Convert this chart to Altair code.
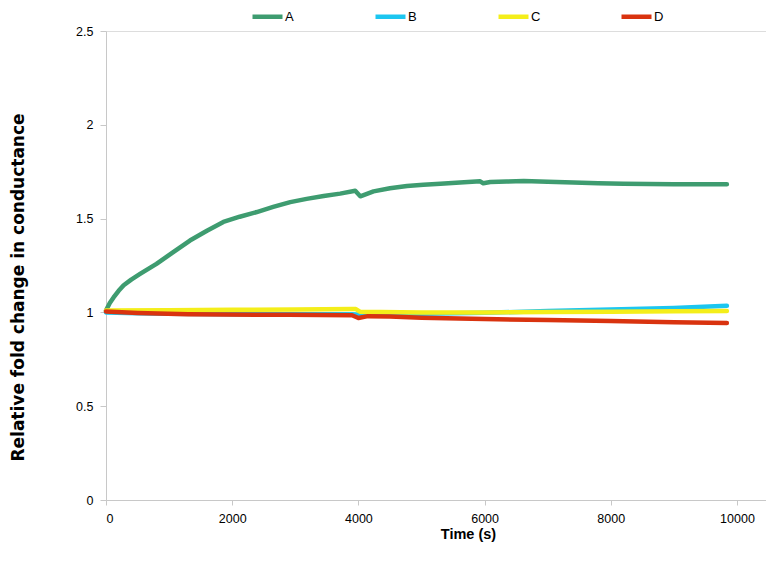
import altair as alt
import pandas as pd

# ---- data ----
series_names = ["A", "B", "C", "D"]
colors = ["#3E9C70", "#1CC6F0", "#F4EE1A", "#D9330F"]

a_time = [0, 60, 120, 200, 280, 400, 540, 800, 1060, 1330, 1600, 1860, 2120, 2390,
          2650, 2920, 3180, 3450, 3710, 3950, 4030, 4240, 4500, 4770, 5030, 5300,
          5610, 5930, 5980, 6090, 6350, 6620, 7000, 7410, 7800, 8200, 8600, 9000,
          9400, 9840]
a_vals = [1.01, 1.05, 1.08, 1.115, 1.145, 1.175, 1.205, 1.259, 1.32, 1.383, 1.435,
          1.482, 1.51, 1.535, 1.562, 1.588, 1.605, 1.62, 1.633, 1.648, 1.619, 1.645,
          1.662, 1.674, 1.681, 1.686, 1.692, 1.699, 1.688, 1.695, 1.698, 1.700, 1.697,
          1.692, 1.689, 1.686, 1.685, 1.683, 1.683, 1.683]

b_time = [0, 500, 1000, 2000, 3000, 3900, 4050, 5000, 6000, 7000, 8000, 9000, 9840]
b_vals = [1.0, 0.995, 0.993, 0.99, 0.99, 0.99, 0.988, 0.993, 0.998, 1.007, 1.015, 1.024, 1.035]

c_time = [0, 1000, 2000, 3000, 3900, 3960, 4030, 5000, 6000, 7000, 8000, 9000, 9840]
c_vals = [1.01, 1.012, 1.014, 1.016, 1.018, 1.018, 1.003, 1.0, 1.0, 1.002, 1.004, 1.006, 1.008]

d_time = [0, 500, 1300, 2900, 3900, 4000, 4150, 4500, 5000, 6000, 7000, 8000, 8600, 9000, 9840]
d_vals = [1.005, 0.997, 0.99, 0.987, 0.985, 0.97, 0.98, 0.978, 0.972, 0.965, 0.959,
          0.954, 0.95, 0.948, 0.944]

x_ticks = [0, 2000, 4000, 6000, 8000, 10000]
y_ticks = [0, 0.5, 1, 1.5, 2, 2.5]

rows = []
for name, ts, vs in zip(series_names, [a_time, b_time, c_time, d_time],
                        [a_vals, b_vals, c_vals, d_vals]):
    for i, (t, v) in enumerate(zip(ts, vs)):
        rows.append({"series": name, "time": t, "value": v, "idx": i})
df = pd.DataFrame(rows)

FONT = "Liberation Sans"
AXIS_GRAY = "#C8C8C8"

chart = alt.Chart(df).mark_line(strokeWidth=4.5, strokeCap="round", strokeJoin="round").encode(
    x=alt.X("time:Q",
            scale=alt.Scale(domain=[0, 10460], nice=False, zero=False),
            axis=alt.Axis(title="Time (s)", values=x_ticks, format="d", grid=False,
                          domainColor=AXIS_GRAY, tickColor=AXIS_GRAY, tickSize=5,
                          labelFont=FONT, labelFontSize=12.5, labelColor="#000000",
                          labelPadding=7, titleFont=FONT, titleFontSize=14.5,
                          titleFontWeight="bold", titleColor="#000000",
                          titleX=362, titleY=27, titleAnchor="middle")),
    y=alt.Y("value:Q",
            scale=alt.Scale(domain=[0, 2.5], nice=False, zero=True),
            axis=alt.Axis(title="Relative fold change in conductance", values=y_ticks,
                          format="~g",
                          grid=False, domainColor=AXIS_GRAY, tickColor=AXIS_GRAY,
                          tickSize=6, labelFont=FONT, labelFontSize=12.5,
                          labelColor="#000000", labelPadding=7,
                          titleFont="DejaVu Sans", titleFontSize=17,
                          titleFontWeight="bold", titleColor="#000000",
                          titleX=-79, titleY=256, titleAnchor="middle")),
    color=alt.Color("series:N",
                    scale=alt.Scale(domain=series_names, range=colors),
                    legend=alt.Legend(title=None, orient="none", direction="horizontal",
                                      legendX=144, legendY=-32,
                                      symbolType="stroke", symbolSize=900,
                                      symbolStrokeWidth=4.5, labelFont=FONT,
                                      labelFontSize=13, labelColor="#000000",
                                      labelOffset=0, columnPadding=71,
                                      gridAlign="all")),
    order="idx:Q",
).properties(
    width=660, height=469,
    autosize=alt.AutoSizeParams(type="none"),
    padding={"left": 98, "top": 23, "right": 0, "bottom": 66},
).configure_view(stroke=None).configure(background="white")

chart.save("out.html", embed_options={"renderer": "svg", "actions": False})
